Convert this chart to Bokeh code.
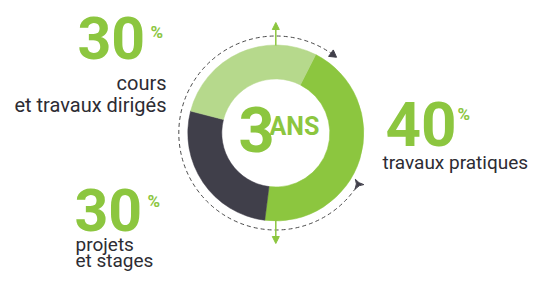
import math
from bokeh.plotting import figure
from bokeh.models import Range1d, ColumnDataSource, Arrow, NormalHead
from bokeh.core.properties import value
from bokeh.embed import file_html
from bokeh.resources import INLINE

# ---- data ----
categories = ["travaux pratiques", "projets et stages", "cours et travaux dirigés"]
percent_labels = ["40", "30", "30"]
arc_shares = [44.5, 27.0, 28.5]          # ring arcs as drawn in the picture
label_lines = [["travaux pratiques"], ["projets", "et stages"], ["cours", "et travaux dirigés"]]
center_number = "3"
center_unit = "ANS"

# ---- style ----
GREEN = "#8cc63f"
colors = ["#8cc63f", "#403f4a", "#b6d98c"]
DARK = "#2d2c33"
FONT = "Roboto"
start_offset_deg = 27
BASE_FIX = 0.30   # renderer places alphabetic baseline ~0.3em low

W, H = 528, 271
p = figure(width=W, height=H, x_range=Range1d(0, 528), y_range=Range1d(16, 287),
           output_backend="svg", toolbar_location=None, min_border=0)
p.axis.visible = False
p.grid.visible = False
p.outline_line_color = None
p.background_fill_color = "white"


def Y(y):
    return 287 - y


cx, cy = 275.3, Y(132.5)

# ring
total = sum(arc_shares)
th = start_offset_deg
starts, ends = [], []
for s in arc_shares:
    span = s / total * 360
    ends.append(math.radians(90 - th))
    starts.append(math.radians(90 - th - span))
    th += span
src = ColumnDataSource(dict(start=starts, end=ends, color=colors, cat=categories))
p.annular_wedge(x=cx, y=cy, inner_radius=54, outer_radius=88, start_angle="start",
                end_angle="end", fill_color="color", line_color="color", line_width=0.5, source=src)

# dashed circle arc with arrowhead and tail
R = 97
head_t, tail_t = 36, 122
p.arc(x=cx, y=cy, radius=R, start_angle=math.radians(90 - head_t), end_angle=math.radians(90 - tail_t + 360),
      line_color="#4a4a4a", line_width=1, line_dash="4 3")
hx = cx + R * math.sin(math.radians(head_t))
hy = cy + R * math.cos(math.radians(head_t))
p.scatter(x=[hx], y=[hy], marker="triangle", size=8, angle=math.radians(-head_t - 90),
          fill_color="#403f4a", line_color="#403f4a")
tx = cx + R * math.sin(math.radians(tail_t))
ty = cy + R * math.cos(math.radians(tail_t))
p.scatter(x=[tx], y=[ty], marker="triangle_pin", size=10, angle=math.radians(-tail_t - 90),
          fill_color="#403f4a", line_color="#403f4a")

# green vertical arrows
p.add_layout(Arrow(end=NormalHead(size=7, fill_color=GREEN, line_color=GREEN),
                   x_start=cx, y_start=Y(45), x_end=cx, y_end=Y(22), line_color=GREEN, line_width=1.5))
p.add_layout(Arrow(end=NormalHead(size=7, fill_color=GREEN, line_color=GREEN),
                   x_start=cx, y_start=Y(220), x_end=cx, y_end=Y(243), line_color=GREEN, line_width=1.5))


def txt(x, y, t, size, color, bold, align="left"):
    p.text(x=[x], y=[Y(y - BASE_FIX * size)], text=[t], text_font=value(FONT),
           text_font_style="bold" if bold else "normal",
           text_font_size=f"{size}px", text_color=color, text_align=align, text_baseline="alphabetic")


# center text
txt(238, 148, center_number, 63, GREEN, True)
txt(269, 133, center_unit, 25, GREEN, True)

# right block: travaux pratiques
txt(385, 142, percent_labels[0], 62, GREEN, True)
txt(457, 119, "%", 17, GREEN, True)
txt(382, 168, label_lines[0][0], 19, DARK, False)

# bottom-left block: projets et stages
txt(74, 227, percent_labels[1], 59, GREEN, True)
txt(147, 206, "%", 17, GREEN, True)
txt(75, 250, label_lines[1][0], 19, DARK, False)
txt(75, 266, label_lines[1][1], 19, DARK, False)

# top-left block: cours et travaux dirigés
txt(77, 55, percent_labels[2], 59, GREEN, True)
txt(150, 37, "%", 17, GREEN, True)
txt(166, 88, label_lines[2][0], 20, DARK, False, "right")
txt(166, 110, label_lines[2][1], 20, DARK, False, "right")

open("out.html", "w").write(file_html(p, INLINE))
